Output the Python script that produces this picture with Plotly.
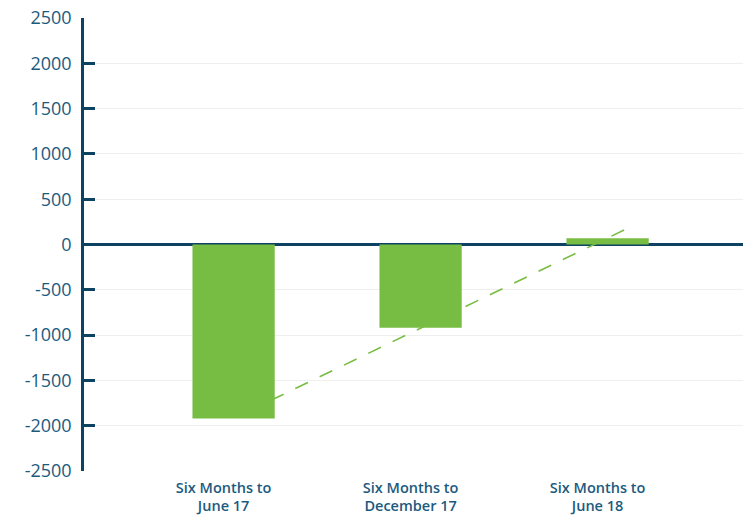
import numpy as np
import plotly.graph_objects as go

categories = ["Six Months to<br>June 17", "Six Months to<br>December 17", "Six Months to<br>June 18"]
values = [-1920, -920, 70]
y_ticks = [-2500, -2000, -1500, -1000, -500, 0, 500, 1000, 1500, 2000, 2500]
y_tick_text = [str(v) for v in y_ticks]

GREEN = "#78BD43"
NAVY = "#0D4262"
LABEL = "#1C5A7E"

# linear trendline (least squares over category index)
idx = np.arange(len(values))
slope, intercept = np.polyfit(idx, values, 1)
tx = np.array([0.2, len(values) - 1 + 0.12])
ty = slope * tx + intercept

fig = go.Figure()
# trendline on base axes (drawn beneath the overlaid bar axes)
fig.add_trace(go.Scatter(x=tx, y=ty, mode="lines", xaxis="x", yaxis="y",
                         line=dict(color=GREEN, width=1.6, dash="14px,13px"),
                         hoverinfo="skip", showlegend=False))
fig.add_trace(go.Bar(x=list(idx), y=values, xaxis="x2", yaxis="y2",
                     marker=dict(color=GREEN, line=dict(width=0)),
                     width=0.44, showlegend=False))

xr = [-0.80, 2.767]
yr = [-2500, 2500]
# page body has an 8px margin, so the figure is sized to fill the rest of the window
fig.update_layout(
    width=743, height=509,
    margin=dict(l=76, r=0, t=10, b=46),
    paper_bgcolor="white", plot_bgcolor="white",
    font=dict(family="Open Sans, sans-serif", color=LABEL),
    xaxis=dict(range=xr, tickvals=list(idx), ticktext=categories, automargin=False,
               showgrid=False, zeroline=False, showline=False, ticks="",
               tickfont=dict(size=14.5, family="Open Sans", color=LABEL, weight=600),
               ticklabelshift=-10, ticklabelstandoff=6, ticklabeloverflow="allow"),
    yaxis=dict(range=yr, tickvals=y_ticks, ticktext=y_tick_text, automargin=False,
               showgrid=True, gridcolor="#EFEFEF", gridwidth=1,
               zeroline=True, zerolinecolor=NAVY, zerolinewidth=2.5,
               showline=True, linecolor=NAVY, linewidth=2.5,
               ticks="inside", ticklen=11, tickwidth=2.5, tickcolor=NAVY,
               tickfont=dict(size=18, family="Open Sans", color=LABEL),
               ticklabelstandoff=6, ticklabeloverflow="allow"),
    xaxis2=dict(range=xr, overlaying="x", visible=False),
    yaxis2=dict(range=yr, overlaying="y", visible=False),
)

fig.write_html("out.html")
